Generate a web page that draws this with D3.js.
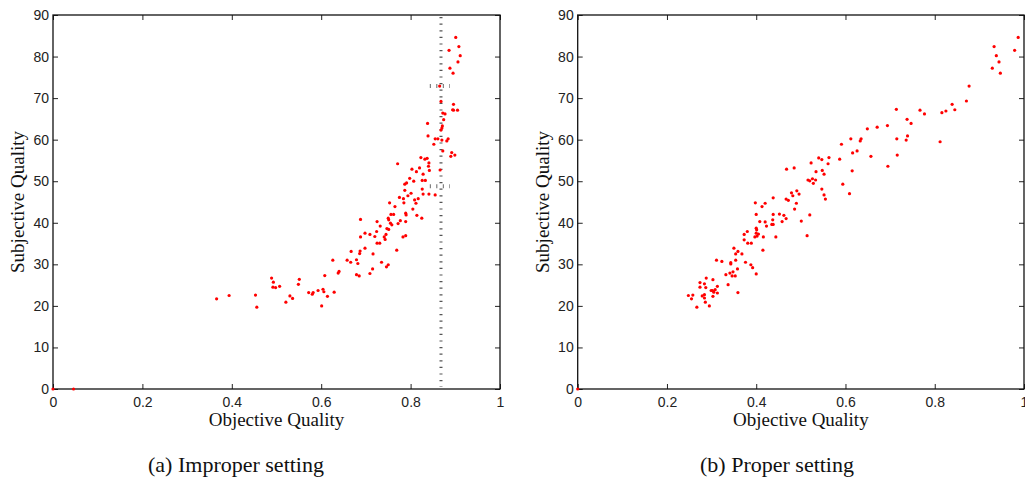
<!DOCTYPE html>
<html>
<head>
<meta charset="utf-8">
<script src="https://cdn.jsdelivr.net/npm/d3@7"></script>
<style>
  body { margin: 0; background: #fff; }
  svg { display: block; }
</style>
</head>
<body>
<div id="chart"></div>
<script>
// improper setting (a): objective vs subjective quality
var leftX = [0.901,0.908,0.886,0.911,0.906,0.888,0.895,0.865,0.868,0.896,0.894,0.896,0.905,0.872,0.877,0.874,0.838,0.871,0.870,0.868,
  0.839,0.855,0.861,0.870,0.884,0.881,0.852,0.872,0.892,0.890,0.899,0.823,0.832,0.837,0.841,0.771,0.840,0.803,0.820,0.813,
  0.842,0.866,0.828,0.798,0.807,0.826,0.833,0.787,0.791,0.787,0.826,0.801,0.794,0.828,0.841,0.855,0.775,0.784,0.817,0.809,
  0.753,0.812,0.785,0.765,0.805,0.789,0.790,0.814,0.756,0.762,0.825,0.688,0.725,0.750,0.751,0.777,0.789,0.755,0.758,0.772,
  0.732,0.747,0.751,0.724,0.698,0.709,0.745,0.741,0.743,0.720,0.688,0.789,0.783,0.725,0.731,0.698,0.667,0.687,0.686,0.769,
  0.716,0.626,0.658,0.666,0.679,0.682,0.735,0.750,0.746,0.715,0.640,0.638,0.608,0.709,0.679,0.685,0.551,0.549,0.530,0.536,
  0.572,0.580,0.582,0.593,0.604,0.606,0.629,0.614,0.601,0.489,0.493,0.492,0.498,0.507,0.453,0.456,0.521,0.366,0.394,0,0.046];
var leftY = [84.6,82.4,81.5,80.2,78.7,77.2,76.0,72.9,69.2,68.5,67.2,67.1,67.1,66.4,66.2,64.8,63.9,63.3,62.8,62.3,
  60.9,60.2,60.2,59.9,60.2,59.7,58.9,57.3,56.9,56.0,56.3,55.7,55.3,55.5,54.4,54.2,53.6,52.9,53.2,52.3,
  52.6,52.7,51.7,50.7,50.0,50.2,50.2,49.3,49.6,47.8,48.1,47.1,46.5,46.9,46.9,46.7,46.1,45.8,45.8,45.5,
  44.8,44.7,44.8,43.9,43.3,42.3,41.9,41.8,42.0,42.0,41.1,40.8,40.3,41.1,40.7,40.5,40.3,39.9,39.5,39.8,
  39.2,38.6,38.4,37.9,37.5,37.2,37.2,36.6,36.0,36.7,36.6,36.9,36.6,35.1,35.1,33.9,33.1,33.2,32.6,33.4,
  32.5,31.0,31.0,30.5,31.1,30.2,30.5,29.9,29.4,28.9,28.3,27.9,27.3,27.8,27.5,27.2,26.4,25.2,22.4,21.8,
  23.2,22.8,23.2,23.7,24.0,23.4,23.3,22.3,20.0,26.7,25.7,24.5,24.4,24.7,22.6,19.7,20.9,21.7,22.5,0,0];

// proper setting (b)
var rightX = [0.987,0.933,0.979,0.938,0.944,0.929,0.947,0.877,0.871,0.839,0.845,0.825,0.816,0.714,0.767,0.777,0.738,0.747,0.694,0.671,
  0.649,0.739,0.736,0.715,0.812,0.612,0.635,0.633,0.591,0.626,0.616,0.657,0.716,0.540,0.547,0.563,0.561,0.587,0.695,0.523,
  0.468,0.485,0.548,0.552,0.615,0.534,0.516,0.520,0.526,0.533,0.528,0.594,0.491,0.479,0.482,0.496,0.547,0.552,0.555,0.609,
  0.438,0.467,0.472,0.490,0.398,0.420,0.413,0.486,0.520,0.400,0.452,0.438,0.462,0.467,0.458,0.408,0.420,0.423,0.437,0.435,
  0.438,0.501,0.400,0.401,0.400,0.405,0.402,0.397,0.380,0.373,0.373,0.416,0.444,0.514,0.381,0.389,0.350,0.415,0.359,0.354,
  0.368,0.311,0.323,0.343,0.343,0.354,0.376,0.388,0.392,0.358,0.332,0.341,0.348,0.346,0.353,0.400,0.337,0.303,0.288,0.274,
  0.284,0.287,0.274,0.313,0.302,0.305,0.308,0.299,0.313,0.303,0.359,0.248,0.258,0.255,0.279,0.284,0.284,0.286,0.267,0.295,0];
var rightY = [84.6,82.4,81.5,80.2,78.7,77.2,76.0,72.9,69.3,68.5,67.2,66.9,66.5,67.3,67.1,66.2,64.9,63.9,63.4,63.0,
  62.6,60.9,59.9,60.2,59.5,60.2,60.2,59.7,58.9,57.3,56.8,56.0,56.3,55.6,55.2,55.7,54.2,55.3,53.6,54.4,
  52.9,53.2,52.6,51.7,52.5,52.3,50.3,50.1,50.6,50.3,49.5,49.3,47.7,47.2,46.5,46.9,48.1,46.7,45.7,47.0,
  46.0,45.7,45.4,44.7,44.8,44.7,43.9,43.3,41.9,42.0,42.1,42.0,41.8,41.0,40.3,40.3,40.2,39.2,40.7,39.6,
  39.6,40.4,38.7,38.3,37.5,37.3,36.8,36.6,37.9,37.2,35.9,36.6,36.6,36.9,35.1,35.1,33.9,33.4,33.1,32.5,
  32.5,31.0,30.7,30.4,30.1,31.0,30.5,29.9,29.2,28.9,27.5,27.9,28.2,27.2,27.2,27.7,25.1,26.3,26.7,25.6,
  25.3,24.4,24.5,24.7,23.7,23.3,23.9,23.7,23.1,22.3,23.2,22.5,22.6,21.7,22.4,22.7,21.9,20.9,19.7,20.0,0];

var xTicks = [0, 0.2, 0.4, 0.6, 0.8, 1];
var yTicks = [0, 10, 20, 30, 40, 50, 60, 70, 80, 90];
var threshold = 0.868;       // dotted line in (a)
var capLevels = [72.9, 48.8]; // dotted caps on that line
var captions = ["(a) Improper setting", "(b) Proper setting"];

var width = 1025, height = 490;
var plotTop = 15, plotBottom = 389;
var fmt = d3.format("~g");

var svg = d3.select("#chart").append("svg")
  .attr("width", width)
  .attr("height", height);

function drawPanel(x0, x1, xs, ys, caption, captionX, titleX, extra) {
  var x = d3.scaleLinear().domain([0, 1]).range([x0, x1]);
  var y = d3.scaleLinear().domain([0, 90]).range([plotBottom, plotTop]);
  var g = svg.append("g");

  g.append("g")
    .attr("transform", "translate(0," + plotBottom + ")")
    .call(d3.axisBottom(x).tickValues(xTicks).tickFormat(fmt).tickSizeInner(-5).tickSizeOuter(0).tickPadding(8));
  g.append("g")
    .attr("transform", "translate(" + x0 + ",0)")
    .call(d3.axisLeft(y).tickValues(yTicks).tickSizeInner(-5).tickSizeOuter(0).tickPadding(4));
  g.append("g")
    .attr("transform", "translate(0," + plotTop + ")")
    .call(d3.axisTop(x).tickValues(xTicks).tickSizeInner(-5).tickSizeOuter(0).tickFormat(""));
  g.append("g")
    .attr("transform", "translate(" + x1 + ",0)")
    .call(d3.axisRight(y).tickValues(yTicks).tickSizeInner(-5).tickSizeOuter(0).tickFormat(""));

  g.selectAll(".domain").remove();
  g.selectAll(".tick line").attr("stroke", "#222").attr("stroke-width", 1);
  g.selectAll(".tick text")
    .attr("font-family", "'Liberation Sans', Arial, sans-serif")
    .attr("font-size", 14)
    .attr("fill", "#222");

  g.append("rect")
    .attr("x", x0).attr("y", plotTop)
    .attr("width", x1 - x0).attr("height", plotBottom - plotTop)
    .attr("fill", "none")
    .attr("stroke", "#111")
    .attr("stroke-width", 1.3);

  if (extra) extra(g, x, y);

  g.selectAll("circle.pt")
    .data(xs.map(function(d, i) { return [d, ys[i]]; }))
    .enter().append("circle")
    .attr("class", "pt")
    .attr("cx", function(d) { return x(d[0]); })
    .attr("cy", function(d) { return y(d[1]); })
    .attr("r", 1.6)
    .attr("fill", "#ff0000");

  g.append("text")
    .attr("x", (x0 + x1) / 2)
    .attr("y", 426)
    .attr("text-anchor", "middle")
    .attr("font-family", "'Liberation Serif', 'Times New Roman', serif")
    .attr("font-size", 19)
    .attr("fill", "#111")
    .text("Objective Quality");

  g.append("text")
    .attr("transform", "translate(" + titleX + "," + ((plotTop + plotBottom) / 2) + ") rotate(-90)")
    .attr("text-anchor", "middle")
    .attr("font-family", "'Liberation Serif', 'Times New Roman', serif")
    .attr("font-size", 19)
    .attr("fill", "#111")
    .text("Subjective Quality");

  g.append("text")
    .attr("x", captionX)
    .attr("y", 472)
    .attr("text-anchor", "middle")
    .attr("font-family", "'Liberation Serif', serif")
    .attr("font-size", 22)
    .attr("fill", "#111")
    .text(caption);
}

drawPanel(53, 500, leftX, leftY, captions[0], 236, 24, function(g, x, y) {
  g.append("line")
    .attr("x1", x(threshold)).attr("x2", x(threshold))
    .attr("y1", plotTop + 2).attr("y2", plotBottom - 2)
    .attr("stroke", "#555")
    .attr("stroke-width", 3)
    .attr("stroke-dasharray", "1.2,5.4");
  g.selectAll("line.cap")
    .data(capLevels)
    .enter().append("line")
    .attr("class", "cap")
    .attr("x1", x(threshold - 0.025)).attr("x2", x(threshold + 0.02))
    .attr("y1", function(d) { return y(d); })
    .attr("y2", function(d) { return y(d); })
    .attr("stroke", "#666")
    .attr("stroke-width", 4)
    .attr("stroke-dasharray", "1,5.5");
});

drawPanel(577.7, 1024, rightX, rightY, captions[1], 777, 549);
</script>
</body>
</html>
